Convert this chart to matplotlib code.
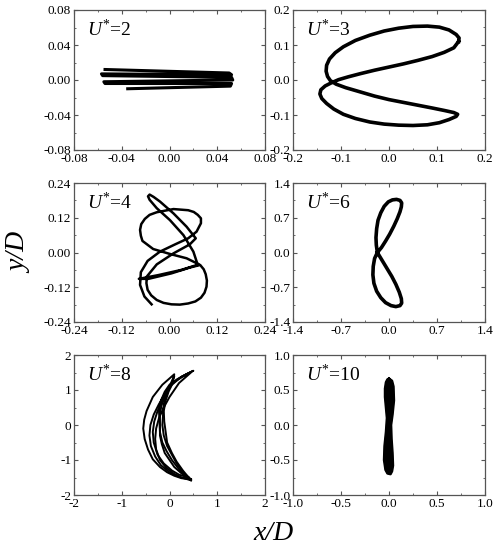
import matplotlib
matplotlib.use("Agg")
import matplotlib.pyplot as plt
from matplotlib.ticker import MultipleLocator, FormatStrFormatter

plt.rcParams['font.family'] = ['Liberation Serif', 'DejaVu Serif']
plt.rcParams['mathtext.fontset'] = 'custom'
plt.rcParams['mathtext.rm'] = 'Liberation Serif'
plt.rcParams['mathtext.it'] = 'Liberation Serif:italic'

# ---- data ----
u2_x = [-0.054, 0.050, 0.052, -0.057, -0.056, 0.052, 0.053, -0.055, -0.054, 0.052, 0.051, -0.035]
u2_y = [0.012, 0.008, 0.006, 0.007, 0.005, 0.003, 0.000, -0.002, -0.004, -0.004, -0.007, -0.010]

u3_x = [0.145, 0.135, 0.115, 0.090, 0.060, 0.030, 0.000, -0.030, -0.060, -0.085, -0.105, -0.120,
        -0.133, -0.142, -0.144, -0.140, -0.130, -0.115, -0.095, -0.070, -0.040, -0.010, 0.020, 0.050,
        0.080, 0.105, 0.125, 0.140, 0.143, 0.135, 0.115, 0.090, 0.060, 0.030, 0.000, -0.030,
        -0.060, -0.090, -0.110, -0.122, -0.128, -0.131, -0.130, -0.124, -0.112, -0.095, -0.070, -0.040,
        -0.010, 0.020, 0.050, 0.080, 0.105, 0.125, 0.140, 0.146, 0.145]
u3_y = [0.110, 0.092, 0.079, 0.067, 0.056, 0.046, 0.037, 0.028, 0.018, 0.009, 0.001, -0.008,
        -0.017, -0.028, -0.040, -0.053, -0.067, -0.083, -0.098, -0.110, -0.120, -0.126, -0.129, -0.130,
        -0.128, -0.122, -0.113, -0.104, -0.098, -0.093, -0.087, -0.080, -0.072, -0.064, -0.056, -0.046,
        -0.034, -0.022, -0.012, -0.002, 0.010, 0.025, 0.042, 0.060, 0.078, 0.095, 0.113, 0.128,
        0.140, 0.148, 0.153, 0.154, 0.151, 0.143, 0.130, 0.120, 0.110]

u4_x = [-0.045, -0.063, -0.074, -0.072, -0.055, -0.024, 0.014, 0.047, 0.068, 0.079, 0.079,
        0.071, 0.061, 0.047, 0.010, -0.032, -0.050, -0.062, -0.071, -0.074, -0.072, -0.068,
        -0.041, 0.001, 0.043, 0.074, 0.030, -0.028, -0.077, -0.053, 0.005, 0.051, 0.077,
        0.086, 0.091, 0.094, 0.093, 0.088, 0.079, 0.065, 0.047, 0.026, 0.005, -0.015, -0.032,
        -0.046, -0.055, -0.058, -0.057, -0.032, 0.010, 0.051, 0.066, 0.043, 0.010, -0.024,
        -0.040, -0.050, -0.054, -0.050, -0.032, 0.001, 0.035, 0.060, 0.071]
u4_y = [-0.179, -0.152, -0.112, -0.068, -0.029, 0.003, 0.028, 0.049, 0.072, 0.101, 0.118,
        0.130, 0.140, 0.146, 0.150, 0.139, 0.130, 0.116, 0.098, 0.078, 0.058, 0.040,
        0.012, -0.005, -0.020, -0.041, -0.060, -0.078, -0.091, -0.091, -0.072, -0.052, -0.043,
        -0.058, -0.075, -0.097, -0.118, -0.139, -0.156, -0.169, -0.176, -0.180, -0.179, -0.174, -0.164,
        -0.148, -0.129, -0.106, -0.083, -0.041, -0.003, 0.028, 0.049, 0.089, 0.135, 0.176,
        0.192, 0.200, 0.194, 0.182, 0.153, 0.112, 0.060, 0.003, -0.043]

u6_x = [-0.17, -0.185, -0.19, -0.18, -0.16, -0.12, -0.07, -0.01, 0.05, 0.11, 0.16, 0.185, 0.18,
        0.16, 0.12, 0.07, 0.01, -0.05, -0.11, -0.17, -0.21, -0.23, -0.235, -0.22, -0.18, -0.12,
        -0.05, 0.03, 0.10, 0.16, 0.185, 0.18, 0.15, 0.10, 0.04, -0.03, -0.10, -0.17]
u6_y = [0.00, 0.15, 0.30, 0.48, 0.65, 0.80, 0.93, 1.02, 1.06, 1.07, 1.05, 1.00, 0.92,
        0.82, 0.68, 0.53, 0.37, 0.23, 0.10, 0.00, -0.12, -0.28, -0.45, -0.62, -0.78, -0.91,
        -1.01, -1.07, -1.09, -1.07, -1.02, -0.93, -0.80, -0.64, -0.48, -0.32, -0.16, 0.00]

u8_loops_x = [
    [0.42, 0.25, 0.10, -0.05, -0.20, -0.35, -0.45, -0.52, -0.55, -0.53, -0.48, -0.35, -0.15, 0.10,
     0.05, -0.03, -0.10, -0.17, -0.20, -0.20, -0.16, -0.10, 0.00, 0.10, 0.25, 0.42],
    [0.45, 0.20, 0.00, -0.18, -0.30, -0.39, -0.42, -0.40, -0.33, -0.22, -0.08, 0.05, 0.25, 0.50,
     0.35, 0.15, 0.00, -0.10, -0.18, -0.22, -0.20, -0.15, -0.06, 0.05, 0.22, 0.45],
    [0.40, 0.20, 0.05, -0.12, -0.25, -0.33, -0.35, -0.32, -0.25, -0.15, -0.02, 0.10,
     0.05, -0.02, -0.08, -0.12, -0.11, -0.05, 0.05, 0.15, 0.28, 0.40],
    [0.45, 0.25, 0.10, -0.07, -0.20, -0.28, -0.30, -0.28, -0.22, -0.12, 0.00, 0.20, 0.45,
     0.30, 0.12, 0.00, -0.07, -0.12, -0.15, -0.12, -0.05, 0.05, 0.15, 0.28, 0.45],
]
u8_loops_y = [
    [-1.55, -1.52, -1.45, -1.35, -1.20, -0.98, -0.70, -0.40, -0.10, 0.15, 0.40, 0.80, 1.15, 1.45,
     1.20, 1.00, 0.80, 0.55, 0.30, -0.30, -0.55, -0.80, -1.00, -1.20, -1.38, -1.55],
    [-1.58, -1.48, -1.35, -1.15, -0.90, -0.60, -0.30, 0.00, 0.30, 0.60, 0.90, 1.15, 1.38, 1.55,
     1.45, 1.30, 1.15, 0.95, 0.70, 0.40, -0.20, -0.50, -0.75, -1.00, -1.30, -1.58],
    [-1.50, -1.42, -1.30, -1.10, -0.85, -0.50, -0.20, 0.10, 0.40, 0.70, 1.05, 1.40,
     1.15, 0.95, 0.70, 0.40, 0.10, -0.50, -0.80, -1.05, -1.30, -1.50],
    [-1.55, -1.50, -1.40, -1.22, -1.00, -0.70, -0.40, -0.10, 0.20, 0.50, 0.80, 1.20, 1.50,
     1.40, 1.25, 1.10, 0.85, 0.60, 0.00, -0.30, -0.60, -0.85, -1.10, -1.35, -1.55],
]

u10_x = [0.00, 0.03, 0.045, 0.05, 0.035, 0.02, 0.025, 0.035, 0.04, 0.03, 0.015, -0.015, -0.035,
         -0.05, -0.045, -0.03, -0.02, -0.03, -0.04, -0.04, -0.03, -0.015, 0.00]
u10_y = [0.66, 0.63, 0.55, 0.35, 0.15, 0.00, -0.20, -0.40, -0.58, -0.66, -0.70, -0.69, -0.64,
         -0.50, -0.30, -0.10, 0.10, 0.25, 0.40, 0.52, 0.61, 0.65, 0.66]

labels = ['2', '3', '4', '6', '8', '10']
limits = [0.08, 0.2, 0.24, 1.4, 2.0, 1.0]
majors = [0.04, 0.1, 0.12, 0.7, 1.0, 0.5]
fmts = ['%.2f', '%.1f', '%.2f', '%.1f', '%d', '%.1f']

# ---- layout ----
W, H = 496, 550
fig = plt.figure(figsize=(W / 100, H / 100), dpi=100)
cols = [(74, 191), (293, 192)]
rows = [(10, 140), (183, 139), (355, 140)]
axes = []
for r, (top, h) in enumerate(rows):
    for c, (left, w) in enumerate(cols):
        ax = fig.add_axes([left / W, 1 - (top + h) / H, w / W, h / H])
        axes.append(ax)

axes[0].plot(u2_x, u2_y, color='black', lw=2.2, solid_joinstyle='round')
axes[1].plot(u3_x, u3_y, color='black', lw=2.6, solid_joinstyle='round')
axes[2].plot(u4_x, u4_y, color='black', lw=1.8, solid_joinstyle='round')
axes[3].plot(u6_x, u6_y, color='black', lw=2.6, solid_joinstyle='round')
for lx, ly in zip(u8_loops_x, u8_loops_y):
    axes[4].plot(lx, ly, color='black', lw=1.4, solid_joinstyle='round')
axes[5].fill(u10_x, u10_y, color='black')
axes[5].plot(u10_x, u10_y, color='black', lw=2.0, solid_joinstyle='round')

for ax, lab, lim, mj, fmt in zip(axes, labels, limits, majors, fmts):
    ax.set_xlim(-lim, lim)
    ax.set_ylim(-lim, lim)
    ax.xaxis.set_major_locator(MultipleLocator(mj))
    ax.yaxis.set_major_locator(MultipleLocator(mj))
    ax.xaxis.set_minor_locator(MultipleLocator(mj / 2))
    ax.yaxis.set_minor_locator(MultipleLocator(mj / 2))
    ax.xaxis.set_major_formatter(FormatStrFormatter(fmt))
    ax.yaxis.set_major_formatter(FormatStrFormatter(fmt))
    ax.tick_params(which='both', direction='in', top=True, right=True,
                   colors='#555555', labelcolor='black', labelsize=9.5, pad=2)
    ax.tick_params(which='major', length=3, width=0.8)
    ax.tick_params(which='minor', length=1.5, width=0.6)
    for s in ax.spines.values():
        s.set_color('#555555')
        s.set_linewidth(0.9)
    ax.text(0.07, 0.86, r'$U^{*}$=' + lab, transform=ax.transAxes,
            fontsize=14, va='center', ha='left')

fig.text(273 / W, 1 - 534 / H, 'x/D', fontsize=20, style='italic',
         ha='center', va='center')
fig.text(20 / W, 1 - 253 / H, 'y/D', fontsize=20, style='italic',
         ha='center', va='center', rotation=90)

fig.savefig('out.png', dpi=100, facecolor='white')
